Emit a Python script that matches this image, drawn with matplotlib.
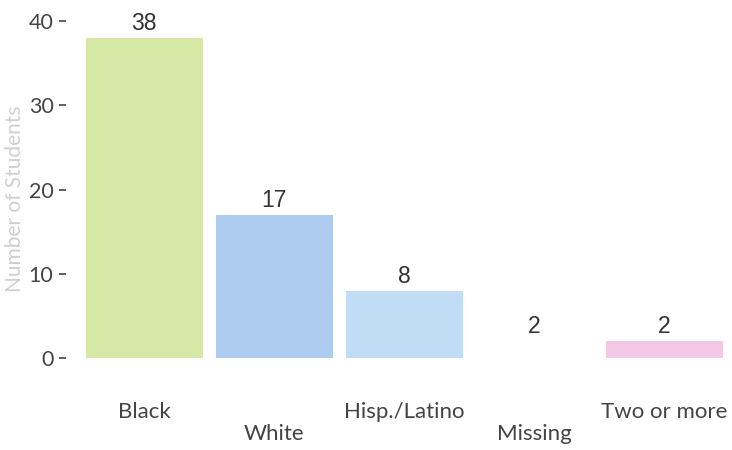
import matplotlib.pyplot as plt

groups = ['Black', 'White', 'Hisp./Latino', 'Missing', 'Two or more']
counts = [38, 17, 8, 2, 2]
bar_colors = ['#d5e8a6', '#adcbef', '#c0ddf5', '#ffffff', '#f3c8e4']
yticks = [0, 10, 20, 30, 40]

fig = plt.figure(figsize=(7.32, 4.5), dpi=100)
ax = fig.add_axes([66 / 732, 76 / 450, 1 - 66 / 732, 374 / 450])

x = list(range(len(groups)))
bars = ax.bar(x, counts, width=0.9, color=bar_colors, linewidth=0)

for b, v in zip(bars, counts):
    ax.text(b.get_x() + b.get_width() / 2, v + 0.35, str(v), ha='center', va='bottom',
            fontsize=16.5, color='#333333', family='Liberation Sans')

# staggered category labels (upper / lower row)
ax.set_xticks(x)
ax.set_xticklabels([])
ax.tick_params(axis='x', length=0)
trans = ax.get_xaxis_transform()
for i, g in enumerate(groups):
    yy = -0.102 if i % 2 == 0 else -0.16
    ax.text(i, yy, g, transform=trans, ha='center', va='center',
            fontsize=16, color='#444444', family='Lato')

ax.set_yticks(yticks)
ax.set_yticklabels([str(t) for t in yticks], fontsize=15.5, color='#444444', family='Lato')
ax.tick_params(axis='y', length=5, width=1.2, color='#444444', pad=4)

ax.set_ylabel('Number of Students', fontsize=15, color='#cfcfcf', family='Lato')
ax.yaxis.set_label_coords(-0.062, 0.468)

ax.set_xlim(-0.6, 4.52)
ax.set_ylim(-1.9, 42.5)
for s in ax.spines.values():
    s.set_visible(False)

fig.savefig('out.png', dpi=100, facecolor='white')
